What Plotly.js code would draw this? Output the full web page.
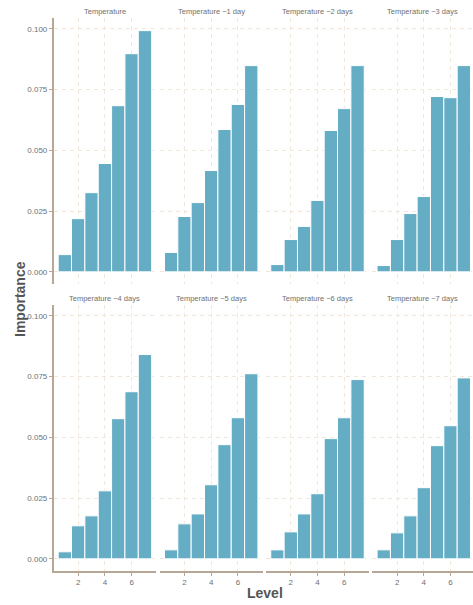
<!DOCTYPE html>
<html>
<head>
<meta charset="utf-8">
<script src="https://cdn.plot.ly/plotly-3.0.1.min.js"></script>
<style>html,body{margin:0;padding:0;background:#fff;}#chart{width:473px;height:605px;}</style>
</head>
<body>
<div id="chart"></div>
<script>
const levels = [1, 2, 3, 4, 5, 6, 7];
const panelTitles = ["Temperature", "Temperature \u22121 day", "Temperature \u22122 days", "Temperature \u22123 days",
                     "Temperature \u22124 days", "Temperature \u22125 days", "Temperature \u22126 days", "Temperature \u22127 days"];
const temp0 = [0.0071, 0.0219, 0.0326, 0.0446, 0.0684, 0.0898, 0.0993];
const temp1 = [0.0080, 0.0228, 0.0285, 0.0417, 0.0586, 0.0689, 0.0849];
const temp2 = [0.0030, 0.0133, 0.0187, 0.0294, 0.0582, 0.0672, 0.0849];
const temp3 = [0.0026, 0.0133, 0.0240, 0.0310, 0.0722, 0.0717, 0.0849];
const temp4 = [0.0029, 0.0136, 0.0177, 0.0280, 0.0577, 0.0688, 0.0841];
const temp5 = [0.0037, 0.0144, 0.0185, 0.0305, 0.0470, 0.0581, 0.0762];
const temp6 = [0.0037, 0.0111, 0.0185, 0.0268, 0.0495, 0.0581, 0.0738];
const temp7 = [0.0037, 0.0107, 0.0177, 0.0293, 0.0466, 0.0548, 0.0745];
const yTicks = [0, 0.025, 0.05, 0.075, 0.1];
const yTickText = ["0.000", "0.025", "0.050", "0.075", "0.100"];
const xTicks = [2, 4, 6];

const series = [temp0, temp1, temp2, temp3, temp4, temp5, temp6, temp7];

const W = 473, H = 605;
const colPx = [[53.5, 156.3], [159.8, 262.6], [266.1, 368.9], [372.4, 473]];
const rowPx = [[18, 284], [305, 571]];
const unit = (156.3 - 53.5) / 7.7;
const axisColor = "#b7a796";
const gridColor = "#f1e6da";
const textColor = "#707070";
const font = "Liberation Sans, Arial, sans-serif";

const traces = [];
const layout = {
  width: W, height: H,
  margin: {l: 0, r: 0, t: 0, b: 0},
  paper_bgcolor: "#fff", plot_bgcolor: "rgba(0,0,0,0)",
  showlegend: false,
  bargap: 0,
  font: {family: font, color: textColor},
  annotations: []
};

series.forEach((vals, i) => {
  const r = Math.floor(i / 4), c = i % 4;
  const n = i + 1;
  const xa = "x" + (n === 1 ? "" : n), ya = "y" + (n === 1 ? "" : n);
  traces.push({
    type: "bar", x: levels, y: vals, xaxis: xa, yaxis: ya,
    width: 1,
    marker: {color: "#65adc4", line: {color: "#ffffff", width: 1}},
    hoverinfo: "x+y"
  });
  const cp = colPx[c], rp = rowPx[r];
  const xr1 = 0.15 + (cp[1] - cp[0]) / unit;
  layout["xaxis" + (n === 1 ? "" : n)] = {
    domain: [cp[0] / W, cp[1] / W],
    range: [0.15, xr1],
    anchor: ya,
    tickvals: xTicks,
    ticktext: xTicks.map(String),
    showticklabels: r === 1,
    ticks: r === 1 ? "outside" : "",
    ticklen: 3, tickwidth: 1, tickcolor: axisColor,
    tickfont: {size: 8, color: textColor, family: font},
    showgrid: true, gridcolor: gridColor, griddash: "4px,4px", gridwidth: 1,
    zeroline: false,
    showline: r === 1, linecolor: axisColor, linewidth: 1.6,
    fixedrange: true
  };
  layout["yaxis" + (n === 1 ? "" : n)] = {
    domain: [1 - rp[1] / H, 1 - rp[0] / H],
    range: [-0.005, 0.1045],
    anchor: xa,
    tickvals: yTicks,
    ticktext: yTickText,
    showticklabels: c === 0,
    ticks: c === 0 ? "outside" : "",
    ticklen: 3, tickwidth: 1, tickcolor: axisColor,
    tickfont: {size: 8, color: textColor, family: font},
    showgrid: true, gridcolor: gridColor, griddash: "4px,4px", gridwidth: 1,
    zeroline: false,
    showline: c === 0, linecolor: axisColor, linewidth: 1.6,
    fixedrange: true
  };
  layout.annotations.push({
    text: panelTitles[i], xref: "paper", yref: "paper",
    x: ((cp[0] + cp[1]) / 2) / W, y: 1 - (r === 0 ? 11 : 298) / H,
    xanchor: "center", yanchor: "middle", showarrow: false,
    font: {size: 7.5, color: textColor, family: font}
  });
});

layout.annotations.push({
  text: "<b>Importance</b>", xref: "paper", yref: "paper",
  x: 20 / W, y: 1 - 299 / H, textangle: -90,
  xanchor: "center", yanchor: "middle", showarrow: false,
  font: {size: 14, color: "#555555", family: font}
});
layout.annotations.push({
  text: "<b>Level</b>", xref: "paper", yref: "paper",
  x: 265 / W, y: 1 - 593 / H,
  xanchor: "center", yanchor: "middle", showarrow: false,
  font: {size: 14, color: "#555555", family: font}
});

Plotly.newPlot("chart", traces, layout, {displayModeBar: false, staticPlot: true});
</script>
</body>
</html>
